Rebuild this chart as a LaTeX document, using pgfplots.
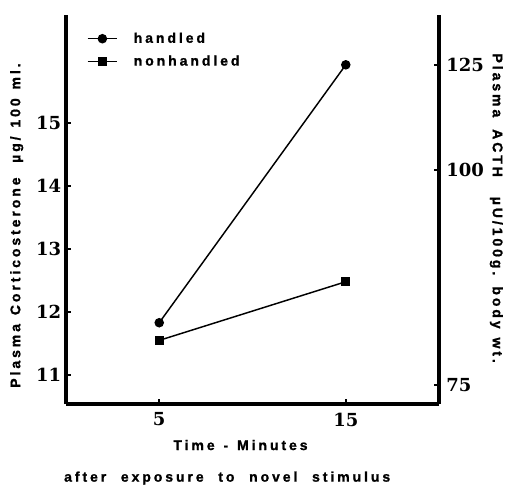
\documentclass[border=0pt]{standalone}
\usepackage{fontspec}
\usepackage{pgfplots}
\pgfplotsset{compat=1.18}
\newfontfamily\lab[LetterSpace=21,WordSpace=1.3,BoldFeatures={FakeBold=1.2}]{Liberation Sans}
\newfontfamily\tickf{DejaVu Serif}
\newcommand{\labfont}{\lab\bfseries\fontsize{10.5}{13}\selectfont}

\begin{document}
\begin{tikzpicture}
% 1 px of the reference = 0.75pt
\pgfplotsset{
  common/.style={
    at={(0,0)}, anchor=south west,
    scale only axis,
    width=280pt, height=292pt,
    xmin=0, xmax=20,
    ymin=10.54, ymax=16.71,
    axis line style={-, line width=2.6pt},
    tick align=inside,
    major tick length=3.5pt,
    tick style={line width=1.6pt, black},
    /pgf/number format/assume math mode=true,
    tick label style={font=\tickf\bfseries\fontsize{13.5}{16}\selectfont},
  }
}
\begin{axis}[
    common,
    axis x line*=bottom,
    axis y line*=left,
    xtick={5,15},
    ytick={11,12,13,14,15},
    xticklabel style={yshift=-3pt},
    legend style={draw=none, fill=none, at={(0.045,0.969)}, anchor=north west,
      font=\labfont, row sep=4pt,
      /tikz/every odd column/.append style={column sep=10pt}},
    legend cell align=left,
    legend image code/.code={
      \draw[mark repeat=2, mark phase=2, #1] plot coordinates {(0pt,0pt) (11pt,0pt) (22pt,0pt)};
    },
]
\addplot[black, line width=1.1pt, mark=*, mark size=3pt] coordinates {
    (5,11.83) (15,15.92)
};
\addplot[black, line width=1.1pt, mark=square*, mark size=2.8pt] coordinates {
    (5,11.55) (15,12.48)
};
\legend{handled,nonhandled}
\end{axis}
\begin{axis}[
    common,
    axis x line=none,
    axis y line*=right,
    ytick={10.84,14.25,15.92},
    yticklabels={75,100,125},
    yticklabel style={xshift=2pt},
]
\end{axis}
\node[rotate=90, font=\labfont] at (-37pt,134pt)
  {Plasma Corticosterone\hspace{11pt}µg/ 100 ml.};
\node[rotate=-90, font=\labfont] at (323pt,147pt)
  {Plasma\hspace{9pt}ACTH\hspace{15pt}µU/100g. body wt.};
\node[font=\labfont] at (131pt,-30.75pt) {Time - Minutes};
\node[font=\labfont] at (121pt,-55.5pt)
  {after\hspace{11pt}exposure\hspace{11pt}to\hspace{11pt}novel\hspace{11pt}stimulus};
\path (-49.5pt,-63.75pt) rectangle (334.75pt,303.25pt);
\end{tikzpicture}
\end{document}
